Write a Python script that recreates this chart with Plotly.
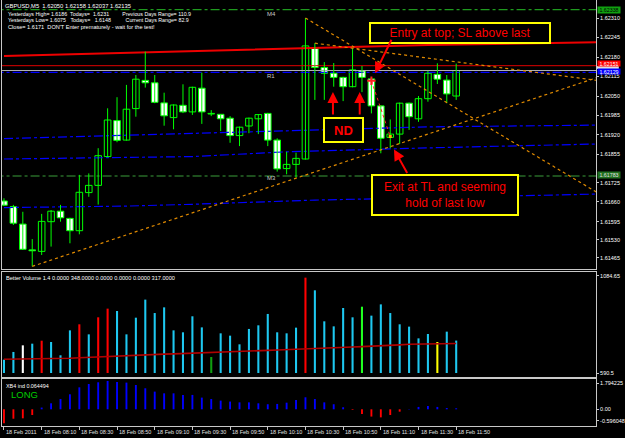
import plotly.graph_objects as go

# ---------------- DATA ----------------
bar_index = list(range(49))
x_tick_positions = [0, 4, 8, 12, 16, 20, 24, 28, 32, 36, 40, 44, 48]
x_tick_labels = ["18 Feb 2011", "18 Feb 08:10", "18 Feb 08:30", "18 Feb 08:50", "18 Feb 09:10",
                 "18 Feb 09:30", "18 Feb 09:50", "18 Feb 10:10", "18 Feb 10:30", "18 Feb 10:50",
                 "18 Feb 11:10", "18 Feb 11:30", "18 Feb 11:50"]

opens = [1.61700, 1.61681, 1.61623, 1.61537, 1.61532, 1.61631, 1.61666, 1.61642, 1.61601, 1.61728,
         1.61752, 1.61848, 1.61968, 1.61903, 1.62008, 1.62102, 1.62094, 1.62027, 1.61978, 1.62019,
         1.61997, 1.62076, 1.61990, 1.61989, 1.61976, 1.61918, 1.61950, 1.61974, 1.61992, 1.61903,
         1.61808, 1.61822, 1.61840, 1.62209, 1.62145, 1.62126, 1.62112, 1.62081, 1.62134, 1.62107,
         1.62017, 1.61912, 1.61923, 1.62026, 1.61974, 1.62041, 1.62122, 1.62103, 1.62050]
highs = [1.61709, 1.61687, 1.61664, 1.61573, 1.61657, 1.61670, 1.61687, 1.61644, 1.61787, 1.61792,
         1.61876, 1.62009, 1.62046, 1.62087, 1.62120, 1.62198, 1.62120, 1.62061, 1.62022, 1.62089,
         1.62081, 1.62128, 1.62003, 1.61990, 1.61983, 1.61948, 1.61978, 1.61990, 1.61994, 1.61909,
         1.61864, 1.61861, 1.62310, 1.62226, 1.62163, 1.62160, 1.62114, 1.62209, 1.62150, 1.62109,
         1.62019, 1.61972, 1.62028, 1.62028, 1.62050, 1.62134, 1.62159, 1.62120, 1.62158]
lows = [1.61684, 1.61620, 1.61537, 1.61482, 1.61520, 1.61548, 1.61631, 1.61559, 1.61589, 1.61714,
        1.61688, 1.61845, 1.61896, 1.61901, 1.61981, 1.62078, 1.62026, 1.61951, 1.61939, 1.61993,
        1.61987, 1.61957, 1.61983, 1.61933, 1.61894, 1.61883, 1.61926, 1.61923, 1.61883, 1.61798,
        1.61789, 1.61779, 1.61838, 1.62037, 1.62037, 1.62081, 1.62033, 1.62079, 1.62063, 1.61992,
        1.61859, 1.61876, 1.61890, 1.61937, 1.61964, 1.62031, 1.62090, 1.62026, 1.62037]
closes = [1.61686, 1.61626, 1.61539, 1.61534, 1.61632, 1.61666, 1.61644, 1.61601, 1.61729, 1.61752,
          1.61851, 1.61970, 1.61902, 1.62006, 1.62106, 1.62094, 1.62029, 1.61984, 1.62020, 1.61997,
          1.62079, 1.61997, 1.61991, 1.61974, 1.61918, 1.61946, 1.61976, 1.61988, 1.61903, 1.61807,
          1.61822, 1.61842, 1.62217, 1.62145, 1.62126, 1.62112, 1.62081, 1.62137, 1.62112, 1.62017,
          1.61909, 1.61923, 1.62026, 1.61981, 1.62041, 1.62126, 1.62106, 1.62057, 1.62135]

volumes = [143, 226, 297, 315, 347, 333, 190, 458, 523, 415,
           598, 691, 666, 415, 594, 788, 644, 705, 458, 437,
           609, 490, 172, 426, 401, 308, 473, 512, 634, 437,
           426, 487, 1024, 888, 555, 501, 698, 598, 712, 616,
           737, 644, 523, 498, 372, 419, 333, 444, 348]
volume_class = ["normal", "normal", "climax_low", "normal", "climax", "normal", "normal", "normal", "climax", "normal",
                "climax", "climax", "normal", "normal", "normal", "normal", "normal", "normal", "normal", "normal",
                "normal", "normal", "churn_low", "normal", "normal", "normal", "normal", "normal", "normal", "normal",
                "normal", "normal", "climax", "normal", "normal", "normal", "normal", "normal", "churn", "normal",
                "normal", "normal", "normal", "normal", "normal", "normal", "low", "normal", "normal"]
volume_avg = [147, 148, 150, 151, 153, 154, 156, 158, 163, 168,
              174, 179, 184, 188, 193, 197, 200, 203, 205, 208,
              213, 217, 222, 226, 229, 233, 236, 240, 243, 247,
              250, 254, 258, 261, 265, 270, 274, 279, 283, 286,
              290, 296, 302, 308, 310, 313, 315, 316, 317]

xb4_values = [-0.89, -0.596, -0.57, -0.36, 0.11, 0.38, 0.65, 0.95, 1.39, 1.60,
              1.71, 1.794, 1.73, 1.69, 1.54, 1.33, 1.12, 1.01, 1.01, 0.91,
              0.91, 0.74, 0.65, 0.55, 0.49, 0.44, 0.44, 0.38, 0.32, 0.34,
              0.42, 0.59, 0.76, 0.65, 0.44, 0.32, 0.13, -0.04, -0.30, -0.46,
              -0.51, -0.36, -0.15, 0.02, 0.15, 0.21, 0.15, 0.08, 0.064494]

price_tick_values = [1.62310, 1.62245, 1.62180, 1.62115, 1.62050, 1.61985, 1.61920, 1.61855,
                     1.61760, 1.61697, 1.61630, 1.61570, 1.61510]
price_tick_labels = ["1.62310", "1.62245", "1.62180", "1.62115", "1.62050", "1.61985", "1.61920", "1.61855",
                     "1.61725", "1.61660", "1.61595", "1.61530", "1.61465"]
volume_tick_values = [1042, 0]
volume_tick_labels = ["1084.65", "590.5"]
xb4_tick_values = [1.665, 0.0, -0.74]
xb4_tick_labels = ["1.794225", "0.00", "-0.596048"]

# indicator bands (bar index, price)
band_red_upper = [(0, 1.62183), (10, 1.62191), (20, 1.62199), (31, 1.62208), (45, 1.62220), (63, 1.62229)]
band_blue_2 = [(0, 1.61908), (13, 1.61920), (20, 1.61926), (30, 1.61934), (45, 1.61947), (63, 1.61953)]
band_blue_3 = [(0, 1.61840), (13, 1.61846), (20, 1.61848), (30, 1.61864), (45, 1.61877), (63, 1.61890)]
band_blue_4 = [(0, 1.61678), (13, 1.61683), (20, 1.61689), (30, 1.61698), (33, 1.61703), (63, 1.61723)]
level_r1 = 1.62129
level_red = 1.62151
level_bid = 1.62135
level_green_top = 1.62338
level_green_m3 = 1.61783

# trend lines: two anchors each (bar index, price), drawn as rays
trend_lines = [((3, 1.61482), (33, 1.61797)),
               ((32, 1.62310), (62.5, 1.61737)),
               ((33, 1.62226), (62.7, 1.62103))]
trade_entry = (39, 1.62101)
trade_exit = (41, 1.61915)

# ---------------- STYLE / LAYOUT ----------------
W, H = 625, 438
ML, MR, MT, MB = 2, 24, 0, 12
PW, PH = W - ML - MR, H - MT - MB
X_RANGE = [-0.21, 62.84]
FONT = "Liberation Sans, Arial, sans-serif"
GREEN = "#00ff00"
FRAME = "#c8c8c8"


def px(x):
    return (x - ML) / PW


def py(y):
    return 1 - (y - MT) / PH


fig = go.Figure()
RAY_END = 64


def flat(level, color, width, dash):
    fig.add_trace(go.Scatter(x=[-1, RAY_END], y=[level, level], mode="lines",
                             line=dict(color=color, width=width, dash=dash), hoverinfo="skip"))


def band(points, color, width, dash):
    fig.add_trace(go.Scatter(x=[p[0] for p in points], y=[p[1] for p in points], mode="lines",
                             line=dict(color=color, width=width, dash=dash), hoverinfo="skip"))


flat(level_green_top, "#1f9a1f", 1.2, "dashdot")
flat(level_green_m3, "#1d4f1d", 2, "dashdot")
band(band_blue_2, "#0000ff", 1.2, "dashdot")
band(band_blue_3, "#0000ff", 1.2, "dashdot")
band(band_blue_4, "#0000ff", 1.2, "dashdot")
flat(level_r1, "#0000ff", 1.2, "dashdot")
flat(level_bid, "#b0b0b0", 1, "solid")
flat(level_red, "#e00000", 1, "solid")
band(band_red_upper, "#ee0000", 2, "solid")

# wicks
wx, wy = [], []
for i, h, l in zip(bar_index, highs, lows):
    wx += [i, i, None]
    wy += [l, h, None]
fig.add_trace(go.Scatter(x=wx, y=wy, mode="lines", line=dict(color=GREEN, width=1), hoverinfo="skip"))

# bodies
bases = [min(o, c) for o, c in zip(opens, closes)]
heights = [max(abs(c - o), 0.00002) for o, c in zip(opens, closes)]
fills = ["#ffffff" if c < o else "#000000" for o, c in zip(opens, closes)]
fig.add_trace(go.Bar(x=bar_index, y=heights, base=bases, width=0.7,
                     marker=dict(color=fills, line=dict(color=GREEN, width=1)), hoverinfo="skip"))

# trend lines (rays)
for (x1, y1), (x2, y2) in trend_lines:
    slope = (y2 - y1) / (x2 - x1)
    fig.add_trace(go.Scatter(x=[x1, RAY_END], y=[y1, y1 + slope * (RAY_END - x1)], mode="lines",
                             line=dict(color="#e08a00", width=1.2, dash="dot"), hoverinfo="skip"))

# trade
fig.add_trace(go.Scatter(x=[trade_entry[0], trade_exit[0]], y=[trade_entry[1], trade_exit[1]], mode="lines",
                         line=dict(color="#ff2020", width=1, dash="dot"), hoverinfo="skip"))
fig.add_trace(go.Scatter(x=[trade_entry[0]], y=[trade_entry[1]], mode="markers",
                         marker=dict(symbol="cross-thin", size=6, line=dict(color="#ff2020", width=2)),
                         hoverinfo="skip"))
fig.add_trace(go.Scatter(x=[trade_exit[0]], y=[trade_exit[1]], mode="markers",
                         marker=dict(symbol="square", size=3, color="#ffb000"), hoverinfo="skip"))

# volume pane
vcolor = {"normal": "#1ec8f0", "climax": "#ff0000", "climax_low": "#ffffff", "churn": "#20ff20",
          "churn_low": "#10a010", "low": "#ffff00"}
fig.add_trace(go.Bar(x=bar_index, y=volumes, width=0.22, xaxis="x2", yaxis="y2",
                     marker=dict(color=[vcolor[c] for c in volume_class], line=dict(width=0)),
                     hoverinfo="skip"))
fig.add_trace(go.Scatter(x=bar_index, y=volume_avg, mode="lines", xaxis="x2", yaxis="y2",
                         line=dict(color="#b00000", width=1.6), hoverinfo="skip"))

# XB4 pane
fig.add_trace(go.Bar(x=bar_index, y=xb4_values, width=0.2, xaxis="x3", yaxis="y3",
                     marker=dict(color=["#0000ff" if v >= 0 else "#ff0000" for v in xb4_values],
                                 line=dict(width=0)), hoverinfo="skip"))

tickfont = dict(family=FONT, size=5.5, color="#ffffff")
common_x = dict(range=X_RANGE, showgrid=False, zeroline=False, showticklabels=False,
                showline=True, linecolor=FRAME, linewidth=1, mirror=True, fixedrange=True)
common_y = dict(side="right", showgrid=False, zeroline=False, showline=True, linecolor=FRAME,
                linewidth=1, mirror=True, ticks="outside", ticklen=2, tickcolor=FRAME,
                tickfont=tickfont, fixedrange=True)

fig.update_layout(
    width=W, height=H, margin=dict(l=ML, r=MR, t=MT, b=MB),
    paper_bgcolor="#000000", plot_bgcolor="#000000",
    showlegend=False, barmode="overlay", hovermode=False,
    xaxis=dict(common_x, anchor="y", ticks="", mirror=False),
    yaxis=dict(common_y, domain=[py(269), 1.0], range=[1.614733, 1.623700],
               tickvals=price_tick_values, ticktext=price_tick_labels),
    xaxis2=dict(common_x, anchor="y2", matches="x", ticks=""),
    yaxis2=dict(common_y, domain=[py(377), py(272)], range=[-43, 1084.65],
                tickvals=volume_tick_values, ticktext=volume_tick_labels),
    xaxis3=dict(common_x, anchor="y3", matches="x", ticks="outside", ticklen=3, tickcolor=FRAME,
                tickvals=x_tick_positions),
    yaxis3=dict(common_y, domain=[0, py(379)], range=[-1.057, 1.918],
                tickvals=xb4_tick_values, ticktext=xb4_tick_labels),
)

ann = []


def text(x, y, s, size=6, color="#ffffff", xref="paper", yref="paper", xanchor="left", **kw):
    ann.append(dict(x=x, y=y, xref=xref, yref=yref, text=s, showarrow=False, xanchor=xanchor,
                    yanchor="middle", font=dict(family=FONT, size=size, color=color), **kw))


NB = "\u00a0"
text(px(3), py(6), "GBPUSD,M5" + NB * 2 + "1.62050 1.62158 1.62037 1.62135", 5.8)
text(px(6), py(14), "Yesterdays High= 1.6186" + NB * 2 + "Todays=" + NB * 2 + "1.6231" + NB * 9
     + "Previous Days Range= 110.9", 5.3)
text(px(6), py(20.5), "Yesterdays Low= 1.6075" + NB * 3 + "Todays=" + NB * 3 + "1.6148" + NB * 10
     + "Current Days Range= 82.9", 5.3)
text(px(6), py(27.5), "Close= 1.6171" + NB * 2 + "DON'T Enter prematurely - wait for the test!", 5.6)

text(px(267), py(14), "M4", 6, "#c8c8c8")
text(px(267), py(76), "R1", 6, "#c8c8c8")
text(px(267), py(178), "M3", 6, "#c8c8c8")

text(px(4), py(278), "Better Volume 1.4 0.0000 348.0000 0.0000 0.0000 0.0000 317.0000", 5.6)
text(px(4), py(386), "XB4 ind 0.064494", 5.4)
text(px(9), py(394), "LONG", 9.5, "#00cc00")

for xv, lab in zip(x_tick_positions, x_tick_labels):
    text(xv, py(432), lab, 5.5, "#e0e0e0", xref="x3")

# price-axis level boxes
for level, bg, fg, shift, hgt in [(level_green_top, "#10a010", "#000000", 0, 6),
                                  (level_red, "#ff0000", "#ffffff", 2.3, 5),
                                  (level_r1, "#0000ff", "#ffffff", 1.3, 5),
                                  (level_green_m3, "#207020", "#e0e0e0", 1, 6)]:
    ann.append(dict(x=1.0, y=level, xref="paper", yref="y", xanchor="left", yanchor="middle",
                    xshift=1, yshift=shift, text=f"{level:.5f}", showarrow=False, bgcolor=bg,
                    borderpad=0, width=22, height=hgt, font=dict(family=FONT, size=5.3, color=fg)))

# bid-price strip between the red and the blue label (its text is hidden in the reference)
shapes = [dict(type="rect", xref="paper", yref="paper", x0=1.0 + 1 / PW, x1=1.0 + 23 / PW,
               y0=py(69), y1=py(66), fillcolor="#e0e0e0", line=dict(width=0), layer="above")]


# callout boxes
def box(x, y, s, w, h, size=12, bold=False):
    ann.append(dict(x=x, y=y, xref="x", yref="y", text=(f"<b>{s}</b>" if bold else s), showarrow=False,
                    xanchor="center", yanchor="middle", bgcolor="#000000", bordercolor="#ffff00",
                    borderwidth=2, borderpad=1, width=w, height=h,
                    font=dict(family=FONT, size=size, color="#ff0000")))


box(48.4, 1.62261, "Entry at top; SL above last", 176, 16)
box(36.07, 1.61938, "ND", 35, 20, 13, True)
box(46.82, 1.61719, "Exit at TL and seeming<br>hold of last low", 142, 36)


def arrow(x, y, ax, ay):
    ann.append(dict(x=x, y=y, xref="x", yref="y", ax=ax, ay=ay, text="", showarrow=True,
                    arrowhead=2, arrowsize=1.1, arrowwidth=2, arrowcolor="#ff0000"))


arrow(39.4, 1.62126, 17, -35)
arrow(34.92, 1.62063, 0, 24)
arrow(37.76, 1.62063, 0, 24)
arrow(41.4, 1.61872, 14, 25)

fig.update_layout(annotations=ann, shapes=shapes)
fig.write_html("out.html", config={"displayModeBar": False, "staticPlot": True})
